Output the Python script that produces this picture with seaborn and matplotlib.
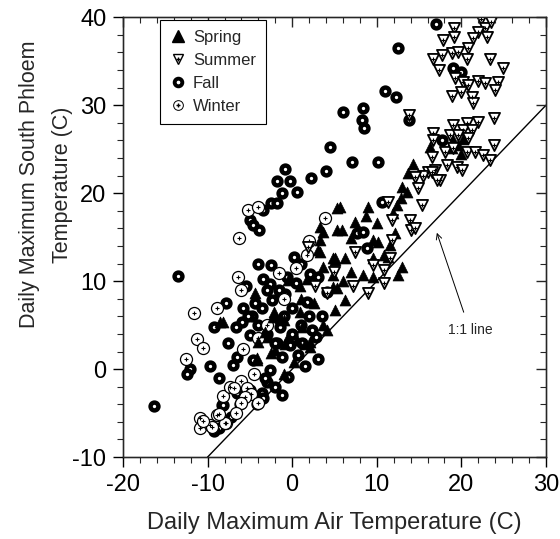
import matplotlib
matplotlib.use("Agg")
import matplotlib.pyplot as plt
import seaborn as sns
from matplotlib.lines import Line2D
from matplotlib.legend_handler import HandlerTuple
from matplotlib.ticker import MultipleLocator, NullFormatter

# ---------------- data ----------------
spring_x = [14.3, 13.7, 5.7, 9.0, 12.9, 12.4, 11.9, 7.4, 5.9, 10.0, 6.9, 9.6, 10.2, 11.6, 5.1, 6.3,
            9.5, 11.3, 13.0, 12.5, 8.4, 9.5, 4.8, 5.3, 3.3, 3.7, 3.3, 3.1, 5.3, 4.8, 3.7, -0.5,
            0.9, -4.4, -2.2, -2.3, -1.4, 0.9, 1.2, 4.1, -2.8, -4.0, -4.1, -2.0, 2.1, 0.6, -0.5,
            -0.8, 1.5, -8.2, 4.8, 1.8, -2.2, -1.0, 3.7, 2.1, -4.1, 5.1, 6.3, 5.3, 3.3, 5.1,
            -8.5, 16.3, 19.0, 19.6, 18.9, 20.2, 19.9, 13.0, 13.6, 8.7, -2.5, 0.2, -1.0, 2.6,
            7.0, 10.8, 12.2, 1.0, -3.2, 6.0]
spring_y = [23.3, 22.3, 18.4, 18.4, 19.5, 18.6, 17.8, 16.7, 15.8, 16.6, 14.9, 14.7, 14.4, 14.1, 12.4, 12.6,
            12.6, 12.7, 11.6, 10.7, 10.7, 10.5, 9.3, 18.3, 16.1, 15.6, 14.7, 13.5, 15.8, 12.6, 11.6, 10.1,
            9.5, 8.6, 6.5, 5.9, 5.8, 6.5, 4.8, 4.4, 3.6, 3.1, 1.0, 2.2, 2.5, 3.3, 3.6,
            2.9, 2.9, 5.3, 10.7, 10.2, 6.3, 5.6, 5.0, 3.1, 1.3, 6.7, 7.8, 9.2, 13.3, 12.6,
            5.3, 25.2, 26.0, 25.5, 25.1, 26.2, 24.5, 20.7, 20.1, 17.4, 1.8, 0.8, -0.5, 7.5,
            11.0, 13.0, 15.5, 8.0, 4.2, 10.0]

summer_x = [22.3, 19.1, 22.8, 19.1, 22.0, 23.0, 17.8, 21.4, 20.8, 16.7, 17.7, 18.9, 19.6, 20.7, 23.4,
            17.3, 24.9, 19.3, 20.2, 20.8, 22.0, 22.8, 24.3, 24.0, 18.9, 19.9, 21.3, 21.4, 23.5,
            23.9, 19.0, 20.7, 22.0, 16.7, 20.2, 21.2, 18.7, 19.6, 20.8, 16.6, 23.8, 16.5, 18.1,
            19.0, 20.7, 21.6, 22.6, 23.4, 18.3, 19.5, 20.1, 16.1, 16.9, 17.5, 15.5, 13.8,
            14.5, 14.9, 15.4, 13.9, 14.1, 11.8, 11.6, 9.6, 7.4, 7.2, 10.8, 9.0, 16.5, 17.1,
            11.3, 11.8, 14.5, 10.9, 1.9, 2.7, 4.1, 5.0]
summer_y = [39.8, 38.8, 38.8, 37.7, 38.3, 37.7, 37.4, 37.6, 36.5, 35.3, 35.7, 35.9, 36.1, 35.3, 35.3,
            34.0, 34.2, 33.1, 32.6, 32.3, 32.8, 32.5, 32.6, 31.7, 31.1, 31.5, 30.9, 30.3, 39.5,
            28.5, 27.7, 28.0, 28.1, 26.8, 27.2, 27.2, 26.6, 26.6, 26.3, 26.0, 25.5, 24.1, 24.7,
            25.1, 24.7, 24.7, 24.3, 23.8, 23.2, 23.0, 22.6, 22.4, 22.6, 21.5, 22.0, 28.9,
            21.8, 20.6, 18.6, 16.9, 15.8, 14.7, 12.6, 11.8, 13.3, 9.5, 9.8, 8.6, 22.4, 21.5,
            19.0, 16.9, 16.0, 11.3, 13.9, 9.5, 8.6, 11.0]

fall_x = [17.0, 12.5, 11.0, 12.3, 6.0, 8.4, 8.3, 8.5, 13.8, 4.5, 7.1, 10.2, 17.7, 19.0, 20.0,
          -0.8, 4.0, -1.8, -0.2, 2.2, -1.2, 0.6, -2.5, -1.8, -3.4, -5.0, -4.6, -3.9, 10.6,
          7.7, 8.4, 8.9, 0.2, -2.5, 2.1, -3.4, -2.6, -0.8, -4.4, -3.6, -1.4, 0.0, 1.8, 4.1,
          0.4, -5.9, -6.7, -5.0, -1.4, 2.4, -0.2, -1.2, 0.7, -2.6, -6.5, -7.0, -0.5, -5.0,
          -3.6, -6.5, -7.8, -9.3, -7.6, -12.1, -9.7, -8.6, -8.3, -8.7, -16.3, -3.4, -8.2,
          3.5, -4.0, -5.5, 1.0, 3.0, -13.5, -12.4, -3.0, 1.5, -1.8, -4.8,
          -3.0, -2.0, -1.0, 1.0, 2.0, -4.0, -3.0, -5.2, 1.2, -2.0, -1.2, -4.2, -3.2, -6.2,
          -7.2, -9.2, 0.0, -0.6, -2.4, -4.6, -5.8, 3.0, 2.8, -1.6]
fall_y = [39.2, 36.5, 31.6, 30.9, 29.2, 29.7, 28.3, 27.4, 28.3, 25.3, 23.6, 23.5, 26.0, 34.2, 33.8,
          22.7, 22.5, 21.4, 21.4, 21.7, 20.0, 20.1, 18.9, 18.9, 18.1, 16.9, 16.4, 15.8, 19.0,
          15.5, 15.6, 13.8, 12.7, 11.8, 10.8, 10.3, 9.7, 8.5, 7.5, 7.0, 8.5, 6.9, 7.6, 8.8,
          9.8, 5.3, 4.8, 3.9, 4.8, 4.4, 2.7, 1.4, 1.6, -0.1, 1.4, 0.5, -0.9, -2.4,
          -2.7, -2.7, 7.5, 4.8, 3.0, 0.0, 0.3, -1.0, -4.1, -6.7, -4.2, -3.3, -4.1,
          6.0, 12.0, 9.5, 12.0, 10.5, 10.6, -0.5, -1.5, 0.3, 3.0, 6.0,
          4.0, 3.0, 6.0, 5.0, 6.0, 5.0, 9.0, 6.0, 3.0, -2.0, -3.0, -4.0, -1.0, -4.0,
          -5.5, -7.0, 4.0, 10.5, 7.8, 1.0, 7.0, 1.2, 3.6, 9.0]

winter_x = [-5.2, -4.0, -6.3, 3.9, 2.0, 1.7, -6.4, -1.5, -11.6, -8.9, -11.2, -10.5, -12.5, -8.2,
            -10.9, -10.9, -9.7, -7.8, -8.9, -7.3, -6.1, -6.9, -5.3, -4.9, -5.6, -6.1, -6.7,
            -7.9, -8.6, -9.5, -10.6, -5.8, -4.0, -6.0, -3.0, -1.0, 0.5, -4.5, -4.0]
winter_y = [18.1, 18.4, 14.9, 17.2, 14.6, 13.0, 10.5, 10.9, 6.4, 6.9, 3.4, 2.4, 1.1, -3.1,
            -5.6, -6.7, -6.4, -6.1, -5.2, -2.0, -1.3, -2.1, -2.2, -2.8, -3.2, -3.8, -5.0,
            -6.1, -5.1, -6.6, -5.9, 2.3, 3.5, 9.0, 5.0, 8.0, 11.5, -0.5, -3.8]

x_ticks = [-20, -10, 0, 10, 20, 30]
y_ticks = [-10, 0, 10, 20, 30, 40]

# ---------------- figure ----------------
sns.set_style("ticks")
plt.rcParams["font.family"] = ["Liberation Sans", "DejaVu Sans"]
plt.rcParams["axes.unicode_minus"] = False

fig = plt.figure(figsize=(5.6, 5.39), dpi=100)
ax = fig.add_axes([0.2196, 0.152, 0.7554, 0.816])

# fall: thick black rings
sns.scatterplot(x=fall_x, y=fall_y, marker="o", s=32, facecolor="white",
                edgecolor="black", linewidth=3.2, ax=ax, legend=False, zorder=3)
# winter: thin circle with centre dot
sns.scatterplot(x=winter_x, y=winter_y, marker="o", s=75, facecolor="white",
                edgecolor="black", linewidth=0.9, ax=ax, legend=False, zorder=3)
sns.scatterplot(x=winter_x, y=winter_y, marker="+", s=8, color="black",
                linewidth=0.8, ax=ax, legend=False, zorder=3)
# spring: filled triangles
sns.scatterplot(x=spring_x, y=spring_y, marker="^", s=62, color="black",
                edgecolor="black", linewidth=0.5, ax=ax, legend=False, zorder=4)
# summer: open down-triangles with a dot
sns.scatterplot(x=summer_x, y=summer_y, marker="v", s=64, facecolor="white",
                edgecolor="black", linewidth=1.3, ax=ax, legend=False, zorder=5)
sns.scatterplot(x=summer_x, y=summer_y, marker="+", s=8, color="black",
                linewidth=0.8, ax=ax, legend=False, zorder=5)

# 1:1 line
ax.axline((0, 0), slope=1, color="black", linewidth=1.0, zorder=2)
ax.annotate("1:1 line", xy=(17.1, 15.5), xytext=(21.0, 4.4),
            ha="center", va="center", fontsize=10,
            arrowprops=dict(arrowstyle="->", color="black", lw=0.7,
                            shrinkA=6, shrinkB=0))

ax.set_xlim(-20, 30)
ax.set_ylim(-10, 40)
ax.set_xticks(x_ticks)
ax.set_yticks(y_ticks)
ax.xaxis.set_minor_locator(MultipleLocator(2))
ax.yaxis.set_minor_locator(MultipleLocator(2))
ax.tick_params(axis="both", which="major", labelsize=17, length=7, width=1,
               direction="out", colors="black", pad=5)
ax.tick_params(axis="both", which="minor", length=4, width=0.8, direction="out")
for spine in ax.spines.values():
    spine.set_visible(True)
    spine.set_linewidth(1.0)
    spine.set_color("black")

# inward ticks on the top and right edges
axr = ax.twinx()
axr.set_ylim(-10, 40)
axr.set_yticks(y_ticks)
axr.yaxis.set_minor_locator(MultipleLocator(2))
axr.yaxis.set_major_formatter(NullFormatter())
axr.tick_params(axis="y", which="major", direction="in", length=7, width=1)
axr.tick_params(axis="y", which="minor", direction="in", length=4, width=0.8)
axt = ax.twiny()
axt.set_xlim(-20, 30)
axt.set_xticks(x_ticks)
axt.xaxis.set_minor_locator(MultipleLocator(2))
axt.xaxis.set_major_formatter(NullFormatter())
axt.tick_params(axis="x", which="major", direction="in", length=7, width=1)
axt.tick_params(axis="x", which="minor", direction="in", length=4, width=0.8)

ax.set_xlabel("Daily Maximum Air Temperature (C)", fontsize=17, labelpad=12)
ax.set_ylabel("Daily Maximum South Phloem\nTemperature (C)", fontsize=15.5,
              linespacing=1.75)
ax.yaxis.set_label_coords(-0.118, 0.62)

# legend
h_spring = Line2D([], [], marker="^", linestyle="none", color="black", markersize=8)
h_summer = (Line2D([], [], marker="v", linestyle="none", markerfacecolor="white",
                   markeredgecolor="black", markeredgewidth=1.0, markersize=6.5),
            Line2D([], [], marker="+", linestyle="none", color="black", markersize=2.5))
h_fall = Line2D([], [], marker="o", linestyle="none", markerfacecolor="white",
                markeredgecolor="black", markeredgewidth=2.8, markersize=5.5)
h_winter = (Line2D([], [], marker="o", linestyle="none", markerfacecolor="white",
                   markeredgecolor="black", markeredgewidth=0.7, markersize=7),
            Line2D([], [], marker="+", linestyle="none", color="black", markersize=2.5))
leg = axt.legend([h_spring, h_summer, h_fall, h_winter],
                 ["Spring", "Summer", "Fall", "Winter"],
                 handler_map={tuple: HandlerTuple(ndivide=1, pad=0)},
                 loc="upper left", bbox_to_anchor=(0.087, 0.993), borderaxespad=0,
                 fontsize=12, frameon=True, fancybox=False, edgecolor="black",
                 framealpha=1, handlelength=1.0, handletextpad=0.4, borderpad=0.6,
                 labelspacing=0.48)
leg.get_frame().set_linewidth(0.8)

fig.savefig("out.png", dpi=100)
